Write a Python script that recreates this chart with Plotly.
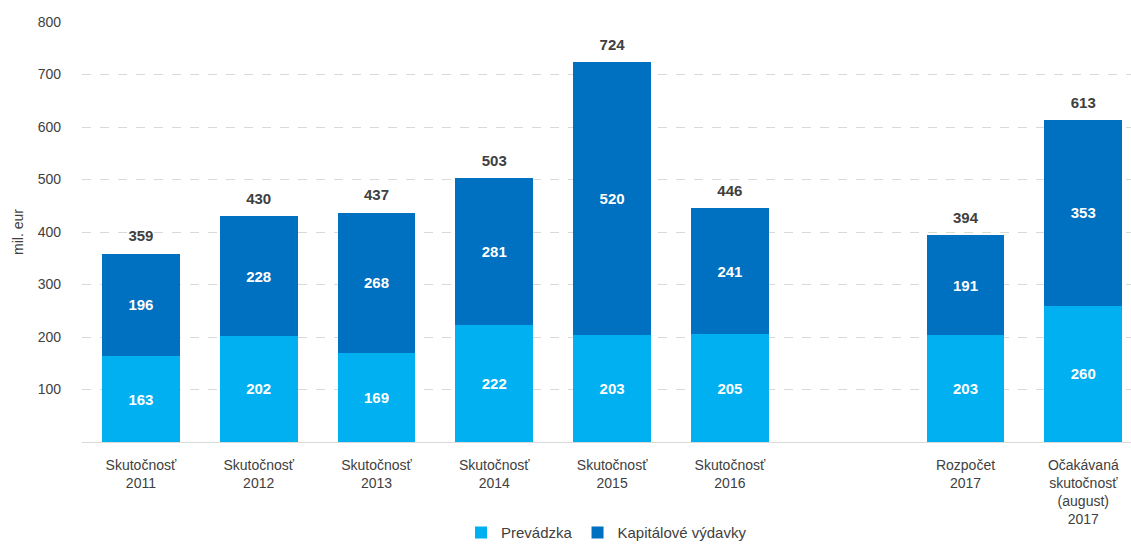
import plotly.graph_objects as go

categories = ["Skutočnosť<br>2011", "Skutočnosť<br>2012", "Skutočnosť<br>2013", "Skutočnosť<br>2014",
              "Skutočnosť<br>2015", "Skutočnosť<br>2016", "",
              "Rozpočet<br>2017", "Očakávaná<br>skutočnosť<br>(august)<br>2017"]
prevadzka = [163, 202, 169, 222, 203, 205, None, 203, 260]
kapitalove = [196, 228, 268, 281, 520, 241, None, 191, 353]
totals = [359, 430, 437, 503, 724, 446, None, 394, 613]

x = list(range(len(categories)))
FONT = "Liberation Sans Narrow, Arial Narrow, Liberation Sans, Arial, sans-serif"

fig = go.Figure()
fig.add_trace(go.Bar(
    x=x, y=prevadzka, name="Prevádzka", marker=dict(color="#00B0F0", line=dict(width=0)),
    width=0.66, text=[str(v) if v is not None else "" for v in prevadzka],
    textposition="inside", insidetextanchor="middle",
    textfont=dict(color="white", size=15, family=FONT), texttemplate="<b>%{text}</b>",
))
fig.add_trace(go.Bar(
    x=x, y=kapitalove, name="Kapitálové výdavky", marker=dict(color="#0070C0", line=dict(width=0)),
    width=0.66, text=[str(v) if v is not None else "" for v in kapitalove],
    textposition="inside", insidetextanchor="middle",
    textfont=dict(color="white", size=15, family=FONT), texttemplate="<b>%{text}</b>",
))
fig.add_trace(go.Scatter(
    x=x, y=totals, mode="markers+text", text=[f"<b>{v}</b>" if v is not None else "" for v in totals],
    marker=dict(size=12, opacity=0),
    textposition="top center", textfont=dict(color="#404040", size=15, family=FONT),
    showlegend=False, hoverinfo="skip",
))

fig.update_layout(
    barmode="stack",
    width=1131, height=547,
    margin=dict(l=82, r=0, t=22, b=105),
    plot_bgcolor="white", paper_bgcolor="white",
    font=dict(family=FONT, color="#404040", size=14),
    legend=dict(orientation="h", x=0.5, xanchor="center", yref="container", y=0.056, yanchor="top",
                font=dict(size=15, color="#404040"), traceorder="normal"),
    xaxis=dict(
        tickmode="array", tickvals=x, ticktext=categories,
        range=[-0.5, 8.405], showgrid=False, zeroline=False,
        showline=True, linecolor="#D9D9D9", linewidth=1, ticks="",
        tickfont=dict(size=14, color="#404040"), ticklabelstandoff=10,
        automargin=False,
    ),
    yaxis=dict(
        range=[0, 800], tickvals=[100, 200, 300, 400, 500, 600, 700, 800],
        showgrid=True, gridcolor="#D9D9D9", griddash="dash", gridwidth=1,
        zeroline=False, showline=False, ticks="",
        tickfont=dict(size=14, color="#404040"), ticklabelstandoff=20,
        title=dict(text="mil. eur", font=dict(size=14, color="#404040"), standoff=10),
        automargin=False,
    ),
    bargap=0.34,
)

fig.write_html("out.html", config={"displayModeBar": False},
               post_script="document.body.style.margin='0';")
